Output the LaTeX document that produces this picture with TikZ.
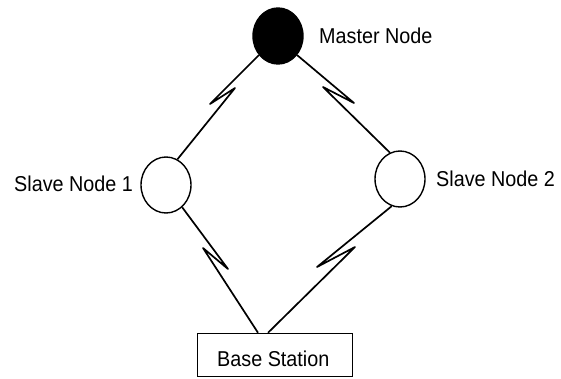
\documentclass[tikz,border=0pt]{standalone}
\usepackage{fontspec}
\setmainfont{Liberation Sans}
\usetikzlibrary{shapes.geometric}
\newcommand{\narrowtxt}[1]{\scalebox{0.92}[1]{#1}}
\begin{document}
\begin{tikzpicture}[x=1pt,y=-1pt,
  nodeshape/.style={ellipse,draw,line width=1.4pt,minimum width=50pt,minimum height=56pt,inner sep=0pt},
  lbl/.style={inner sep=0pt,anchor=base west,font=\fontsize{21.5}{24}\selectfont},
  link/.style={line width=1.7pt,line join=round}]
\useasboundingbox (0,0) rectangle (561,378);
\node[nodeshape,fill=black] (master) at (278,36) {};
\node[nodeshape] (slave1) at (166,185) {};
\node[nodeshape] (slave2) at (400,179) {};
\node[draw,line width=1.5pt,minimum width=155pt,minimum height=43pt,inner sep=0pt] (base) at (275,355) {};
\node[lbl] (basetxt) at (217,366.5) {\narrowtxt{Base Station}};
\node[lbl] (mlab) at (319,43) {\narrowtxt{Master Node}};
\node[lbl] (s1lab) at (14,191.5) {\narrowtxt{Slave Node 1}};
\node[lbl] (s2lab) at (436,186) {\narrowtxt{Slave Node 2}};
% lightning tips
\coordinate (t1a) at (210,104); \coordinate (t1b) at (235,88);
\coordinate (t2a) at (354,103); \coordinate (t2b) at (323,87);
\coordinate (t3a) at (228,269); \coordinate (t3b) at (203,248);
\coordinate (t4a) at (317,267); \coordinate (t4b) at (355,247);
\coordinate (b1) at ([xshift=-17pt]base.north);
\coordinate (b2) at ([xshift=-7pt]base.north);
\draw[link] (master.225) -- (t1a) -- (t1b) -- (slave1.66);
\draw[link] (master.315) -- (t2a) -- (t2b) -- (slave2.111);
\draw[link] (slave1.306) -- (t3a) -- (t3b) -- (b1);
\draw[link] (slave2.253) -- (t4a) -- (t4b) -- (b2);
\end{tikzpicture}
\end{document}
